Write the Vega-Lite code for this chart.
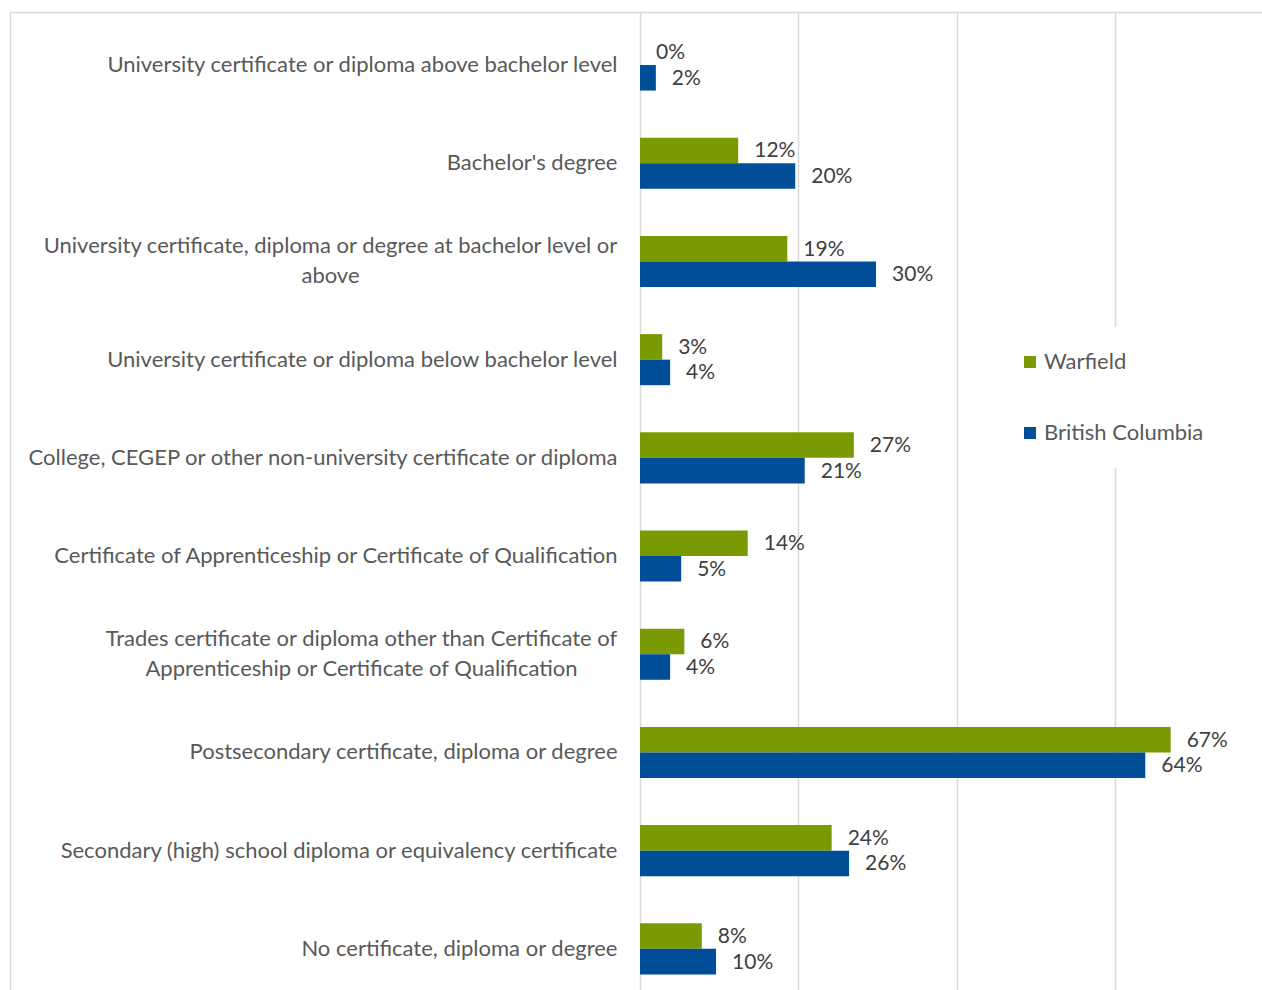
{
  "$schema": "https://vega.github.io/schema/vega-lite/v6.json",
  "width": 1252,
  "height": 978,
  "autosize": {"type": "none"},
  "padding": {"left": 10, "top": 12, "right": 0, "bottom": 0},
  "background": "white",
  "config": {
    "view": {"stroke": null},
    "font": "Lato"
  },
  "data": {
    "values": [
      {"category": "University certificate or diploma above bachelor level", "series": "Warfield", "value": 0.0},
      {"category": "University certificate or diploma above bachelor level", "series": "British Columbia", "value": 0.020},
      {"category": "Bachelor's degree", "series": "Warfield", "value": 0.124},
      {"category": "Bachelor's degree", "series": "British Columbia", "value": 0.196},
      {"category": "University certificate, diploma or degree at bachelor level or above", "series": "Warfield", "value": 0.186},
      {"category": "University certificate, diploma or degree at bachelor level or above", "series": "British Columbia", "value": 0.298},
      {"category": "University certificate or diploma below bachelor level", "series": "Warfield", "value": 0.028},
      {"category": "University certificate or diploma below bachelor level", "series": "British Columbia", "value": 0.038},
      {"category": "College, CEGEP or other non-university certificate or diploma", "series": "Warfield", "value": 0.270},
      {"category": "College, CEGEP or other non-university certificate or diploma", "series": "British Columbia", "value": 0.208},
      {"category": "Certificate of Apprenticeship or Certificate of Qualification", "series": "Warfield", "value": 0.136},
      {"category": "Certificate of Apprenticeship or Certificate of Qualification", "series": "British Columbia", "value": 0.052},
      {"category": "Trades certificate or diploma other than Certificate of Apprenticeship or Certificate of Qualification", "series": "Warfield", "value": 0.056},
      {"category": "Trades certificate or diploma other than Certificate of Apprenticeship or Certificate of Qualification", "series": "British Columbia", "value": 0.038},
      {"category": "Postsecondary certificate, diploma or degree", "series": "Warfield", "value": 0.670},
      {"category": "Postsecondary certificate, diploma or degree", "series": "British Columbia", "value": 0.638},
      {"category": "Secondary (high) school diploma or equivalency certificate", "series": "Warfield", "value": 0.242},
      {"category": "Secondary (high) school diploma or equivalency certificate", "series": "British Columbia", "value": 0.264},
      {"category": "No certificate, diploma or degree", "series": "Warfield", "value": 0.078},
      {"category": "No certificate, diploma or degree", "series": "British Columbia", "value": 0.096}
    ]
  },
  "encoding": {
    "y": {
      "field": "category",
      "type": "nominal",
      "sort": null,
      "scale": {
        "domain": [
          "University certificate or diploma above bachelor level",
          "Bachelor's degree",
          "University certificate, diploma or degree at bachelor level or above",
          "University certificate or diploma below bachelor level",
          "College, CEGEP or other non-university certificate or diploma",
          "Certificate of Apprenticeship or Certificate of Qualification",
          "Trades certificate or diploma other than Certificate of Apprenticeship or Certificate of Qualification",
          "Postsecondary certificate, diploma or degree",
          "Secondary (high) school diploma or equivalency certificate",
          "No certificate, diploma or degree"
        ],
        "paddingInner": 0.48,
        "paddingOuter": 0.2196,
        "align": 0.638
      },
      "axis": {
        "title": null,
        "ticks": false,
        "tickSize": 0,
        "domain": true,
        "domainColor": "#d9d9d9",
        "domainWidth": 1.5,
        "grid": false,
        "labelFont": "Lato",
        "labelFontSize": 22,
        "labelColor": "#595959",
        "labelLimit": 800,
        "labelLineHeight": 30,
        "labelPadding": {"condition": [
          {"test": "indexof(datum.value, 'bachelor level or above') >= 0", "value": -320},
          {"test": "indexof(datum.value, 'Trades') == 0", "value": -351}
        ], "value": -607},
        "labelOffset": {"condition": {"test": "indexof(datum.value, 'bachelor level or above') >= 0 || indexof(datum.value, 'Trades') == 0", "value": -15}, "value": 0},
        "labelAlign": {"condition": {"test": "indexof(datum.value, 'bachelor level or above') >= 0 || indexof(datum.value, 'Trades') == 0", "value": "center"}, "value": "right"},
        "labelExpr": "datum.value == 'University certificate, diploma or degree at bachelor level or above' ? ['University certificate, diploma or degree at bachelor level or', 'above'] : datum.value == 'Trades certificate or diploma other than Certificate of Apprenticeship or Certificate of Qualification' ? ['Trades certificate or diploma other than Certificate of', 'Apprenticeship or Certificate of Qualification'] : datum.value"
      }
    },
    "yOffset": {
      "field": "series",
      "type": "nominal",
      "sort": null,
      "scale": {"domain": ["Warfield", "British Columbia"], "paddingInner": 0, "paddingOuter": 0}
    },
    "x": {
      "field": "value",
      "type": "quantitative",
      "scale": {"domain": [-0.79545, 0.78535], "nice": false, "zero": false},
      "axis": {
        "title": null,
        "orient": "top",
        "values": [0, 0.2, 0.4, 0.6],
        "labels": false,
        "ticks": false,
        "domain": true,
        "domainColor": "#d9d9d9",
        "domainWidth": 1.5,
        "grid": true,
        "gridColor": "#d9d9d9",
        "gridWidth": 1.5
      }
    }
  },
  "layer": [
    {
      "mark": {"type": "bar"},
      "encoding": {
        "color": {
          "field": "series",
          "type": "nominal",
          "sort": null,
          "scale": {"domain": ["Warfield", "British Columbia"], "range": ["#7a9a01", "#004e98"]},
          "legend": {
            "title": null,
            "orient": "none",
            "legendX": 985,
            "legendY": 315,
            "fillColor": "white",
            "padding": 24,
            "symbolType": "square",
            "symbolSize": 144,
            "symbolStrokeWidth": 0,
            "labelFont": "Lato",
            "labelFontSize": 22,
            "labelColor": "#595959",
            "labelOffset": 3,
            "rowPadding": 49
          }
        }
      }
    },
    {
      "mark": {"type": "text", "align": "left", "baseline": "middle", "dx": 16, "dy": 1, "fontSize": 21, "font": "Lato", "color": "#404040"},
      "encoding": {
        "text": {"field": "value", "type": "quantitative", "format": ".0%"}
      }
    }
  ]
}
